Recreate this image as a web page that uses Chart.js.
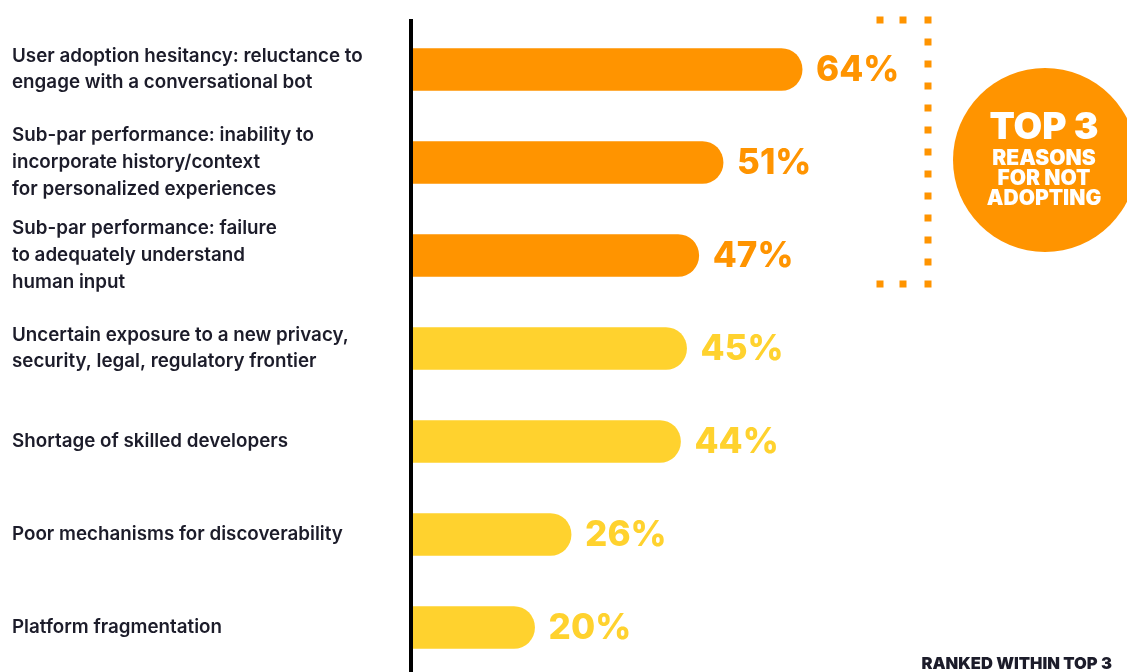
<!DOCTYPE html>
<html>
<head>
<meta charset="utf-8">
<script src="https://cdn.jsdelivr.net/npm/chart.js@4.4.1/dist/chart.umd.min.js"></script>
<style>
  html, body { margin: 0; padding: 0; background: #fff; overflow: hidden; }
  #wrap { position: relative; width: 1127px; height: 674px; }
</style>
</head>
<body>
<div id="wrap"><canvas id="chart"></canvas></div>
<script>
// --- data ---
const reasons = [
    ['User adoption hesitancy: reluctance to', 'engage with a conversational bot'],
    ['Sub-par performance: inability to', 'incorporate history/context', 'for personalized experiences'],
    ['Sub-par performance: failure', 'to adequately understand', 'human input'],
    ['Uncertain exposure to a new privacy,', 'security, legal, regulatory frontier'],
    'Shortage of skilled developers',
    'Poor mechanisms for discoverability',
    'Platform fragmentation'
];
const percentages = [64, 51, 47, 45, 44, 26, 20];
const isTop3 = [true, true, true, false, false, false, false];

const ORANGE = '#FF9400';
const YELLOW = '#FFD22E';
const INK = '#1c1c2a';
const barColors = isTop3.map(t => t ? ORANGE : YELLOW);

// vertical axis line, value labels and the "top 3" callout
const decorPlugin = {
    id: 'decor',
    beforeDatasetsDraw(chart) {
        const ctx = chart.ctx;
        const x = chart.chartArea.left - 2;
        ctx.save();
        ctx.fillStyle = '#000';
        ctx.fillRect(x - 2, 19, 4, 672 - 19);
        ctx.restore();
    },
    afterDatasetsDraw(chart) {
        const ctx = chart.ctx;
        const meta = chart.getDatasetMeta(0);
        ctx.save();
        ctx.font = '800 35px Inter';
        ctx.textBaseline = 'middle';
        ctx.textAlign = 'left';
        meta.data.forEach((bar, i) => {
            ctx.fillStyle = barColors[i];
            ctx.fillText(percentages[i] + '%', bar.x + 14, bar.y + 1);
        });

        // dotted bracket around the first three bars
        ctx.fillStyle = ORANGE;
        const bx = 928, top = 20, bottom = 284;
        [880, 903].forEach(dx => {
            ctx.fillRect(dx - 3.5, top - 3.5, 7, 7);
            ctx.fillRect(dx - 3.5, bottom - 3.5, 7, 7);
        });
        for (let y = top; y <= bottom + 1; y += 22) {
            ctx.fillRect(bx - 3.5, y - 3.5, 7, 7);
        }

        // circle badge
        ctx.beginPath();
        ctx.arc(1045, 160, 92, 0, Math.PI * 2);
        ctx.fill();
        ctx.fillStyle = '#fff';
        ctx.textAlign = 'center';
        ctx.font = '900 37px Inter';
        ctx.fillText('TOP 3', 1044, 128);
        ctx.font = '900 21px Inter';
        ctx.fillText('REASONS', 1044, 159);
        ctx.fillText('FOR NOT', 1044, 179);
        ctx.fillText('ADOPTING', 1044, 199);

        ctx.fillStyle = INK;
        ctx.font = '900 16.5px Inter';
        ctx.textAlign = 'right';
        ctx.fillText('RANKED WITHIN TOP 3', 1112, 664);
        ctx.restore();
    }
};

new Chart(document.getElementById('chart'), {
    type: 'bar',
    data: {
        labels: reasons,
        datasets: [{
            data: percentages,
            backgroundColor: barColors,
            borderRadius: 21,
            borderSkipped: 'start',
            barThickness: 42
        }]
    },
    options: {
        indexAxis: 'y',
        responsive: true,
        maintainAspectRatio: false,
        animation: false,
        layout: { padding: { left: 12, top: 23, right: 106, bottom: 0 } },
        plugins: { legend: { display: false }, tooltip: { enabled: false } },
        scales: {
            x: { display: false, min: 0, max: 100 },
            y: {
                grid: { display: false },
                border: { display: false },
                ticks: {
                    crossAlign: 'far',
                    color: INK,
                    font: { family: 'Inter', size: 18.8, weight: 600, lineHeight: 1.42 }
                },
                afterFit(scale) {
                    scale.width = 401;
                    scale.paddingTop = 0;
                    scale.paddingBottom = 0;
                }
            }
        }
    },
    plugins: [decorPlugin]
});
</script>
</body>
</html>
